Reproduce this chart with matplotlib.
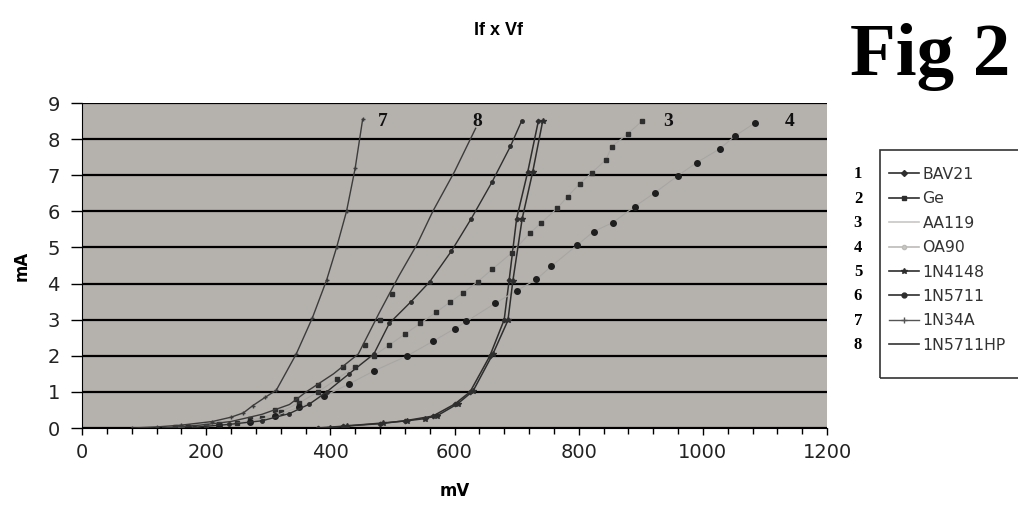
import matplotlib
matplotlib.use("Agg")
import matplotlib.pyplot as plt
from matplotlib.lines import Line2D
from matplotlib.patches import Rectangle

# forward voltage (mV) / forward current (mA)
v_bav21 = [380, 420, 480, 520, 565, 600, 625, 657, 680, 688, 700, 718, 735]
i_bav21 = [0.0, 0.05, 0.12, 0.2, 0.33, 0.66, 1.0, 2.0, 3.0, 4.1, 5.8, 7.1, 8.5]

v_ge = [150, 220, 270, 310, 345, 380, 420, 455, 480, 500]
i_ge = [0.0, 0.1, 0.25, 0.5, 0.8, 1.2, 1.7, 2.3, 3.0, 3.7]

v_aa119 = [150, 200, 250, 290, 320, 350, 380, 410, 440, 470, 495, 520, 545, 570,
           592, 613, 637, 661, 692, 721, 740, 765, 782, 802, 821, 844, 853, 879, 902]
i_aa119 = [0.02, 0.06, 0.14, 0.28, 0.45, 0.7, 1.0, 1.35, 1.7, 2.0, 2.3, 2.6, 2.9, 3.2,
           3.48, 3.73, 4.05, 4.4, 4.85, 5.39, 5.69, 6.08, 6.41, 6.77, 7.07, 7.43, 7.79, 8.15, 8.5]

v_oa90 = [170, 220, 270, 310, 350, 390, 430, 470, 524, 565, 600, 619, 665, 700,
          732, 756, 797, 824, 855, 890, 923, 960, 990, 1027, 1052, 1084]
i_oa90 = [0.02, 0.07, 0.17, 0.33, 0.58, 0.88, 1.22, 1.58, 2.0, 2.4, 2.75, 2.95, 3.45, 3.8,
          4.12, 4.48, 5.06, 5.44, 5.69, 6.13, 6.52, 6.99, 7.35, 7.73, 8.09, 8.45]

v_1n4148 = [400, 427, 485, 523, 552, 572, 605, 630, 662, 686, 694, 709, 726, 742]
i_1n4148 = [0.0, 0.06, 0.14, 0.2, 0.26, 0.34, 0.67, 1.03, 2.06, 2.98, 4.08, 5.8, 7.1, 8.5]

v_1n5711 = [180, 237, 290, 334, 366, 394, 430, 470, 495, 530, 560, 595, 627, 660, 690, 708]
i_1n5711 = [0.02, 0.1, 0.2, 0.4, 0.66, 1.0, 1.5, 2.05, 2.9, 3.5, 4.05, 4.9, 5.8, 6.8, 7.8, 8.5]

v_1n34a = [80, 120, 160, 210, 240, 260, 275, 295, 313, 345, 371, 394, 410, 426, 440, 452]
i_1n34a = [0.0, 0.03, 0.08, 0.18, 0.3, 0.42, 0.62, 0.85, 1.05, 2.05, 3.05, 4.1, 5.0, 6.0, 7.2, 8.55]

v_1n5711hp = [130, 190, 240, 290, 334, 361, 405, 445, 479, 510, 540, 565, 600, 634]
i_1n5711hp = [0.0, 0.08, 0.18, 0.38, 0.65, 1.0, 1.5, 2.05, 3.2, 4.2, 5.1, 6.0, 7.1, 8.3]

names = ["BAV21", "Ge", "AA119", "OA90", "1N4148", "1N5711", "1N34A", "1N5711HP"]

# hand written curve numbers placed at the top of the curves
tag_text = ["7", "8", "3", "4"]
tag_x = [485, 636, 944, 1140]
tag_y = [8.5, 8.5, 8.5, 8.5]

dark = "#2e2e2e"
bg = "#b5b2ae"

fig = plt.figure(figsize=(10.18, 5.2), dpi=100)
ax = fig.add_axes([0.0806, 0.1769, 0.7318, 0.625])
ax.set_facecolor(bg)

ax.plot(v_bav21, i_bav21, color=dark, lw=1.1, marker="D", ms=2.3)
ax.plot(v_ge, i_ge, color=dark, lw=1.0, marker="s", ms=3.3, ls="none")
ax.plot(v_aa119, i_aa119, color="#a8a6a3", lw=0.8, marker="s", ms=2.6,
        mfc=dark, mec=dark)
ax.plot(v_oa90, i_oa90, color="#a8a6a3", lw=0.8, marker="o", ms=4.0,
        mfc="#1e1e1e", mec="#1e1e1e")
ax.plot(v_1n4148, i_1n4148, color=dark, lw=1.1, marker="*", ms=4)
ax.plot(v_1n5711, i_1n5711, color=dark, lw=1.0, marker="o", ms=2.5)
ax.plot(v_1n34a, i_1n34a, color="#3c3c3c", lw=1.0, marker="+", ms=3)
ax.plot(v_1n5711hp, i_1n5711hp, color="#3c3c3c", lw=1.0)

for t, x, y in zip(tag_text, tag_x, tag_y):
    ax.text(x, y, t, fontsize=14, fontweight="bold", family="Liberation Serif",
            ha="center", va="center", color="#111111")

ax.set_xlim(0, 1200)
ax.set_ylim(0, 9)
ax.set_xticks(range(0, 1201, 200))
ax.set_xticks(range(0, 1201, 40), minor=True)
ax.set_yticks(range(0, 10))
ax.yaxis.grid(True, color="black", lw=1.6)
ax.set_axisbelow(True)
ax.tick_params(axis="x", direction="out", length=5, width=1, labelsize=14, pad=6)
ax.tick_params(axis="x", which="minor", direction="out", length=4, width=1)
ax.tick_params(axis="y", direction="out", length=8, width=1, labelsize=14, pad=8)
for lab in ax.get_xticklabels() + ax.get_yticklabels():
    lab.set_family("DejaVu Sans")
    lab.set_color("#222222")
ax.spines["top"].set_visible(False)
ax.spines["right"].set_visible(False)

ax.set_xlabel("mV", fontsize=12, fontweight="bold", labelpad=14)
ax.set_ylabel("mA", fontsize=12, fontweight="bold", labelpad=12)

fig.text(0.49, 0.942, "If x Vf", fontsize=13, fontweight="bold",
         family="Liberation Sans", ha="center", va="center")
fig.text(0.914, 0.856, "Fig 2", fontsize=54, fontweight="bold",
         family="Liberation Serif", ha="center", va="baseline")

# legend box runs off the right edge of the page in the scan
fig.patches.append(Rectangle((880 / 1018, 1 - 378 / 520), 0.2, 228 / 520,
                             transform=fig.transFigure, fill=False,
                             ec="#333333", lw=1.2))
handles = [
    Line2D([], [], color=dark, lw=1.2, marker="D", ms=3),
    Line2D([], [], color=dark, lw=1.2, marker="s", ms=3.5),
    Line2D([], [], color="#c9c7c4", lw=1.2),
    Line2D([], [], color="#bdbbb8", lw=1.2, marker="o", ms=3, mfc="#c9c7c4"),
    Line2D([], [], color=dark, lw=1.2, marker="*", ms=4),
    Line2D([], [], color=dark, lw=1.2, marker="o", ms=3.5),
    Line2D([], [], color="#555555", lw=1.0, marker="+", ms=4),
    Line2D([], [], color="#333333", lw=1.2),
]
leg = fig.legend(handles, names, loc="upper left",
                 bbox_to_anchor=(881 / 1018, 1 - 159 / 520),
                 frameon=False, handlelength=1.9,
                 handletextpad=0.25, labelspacing=0.6, borderpad=0,
                 prop={"family": "DejaVu Sans", "size": 11.3})
for t in leg.get_texts():
    t.set_color("#333333")

# numbers beside each legend entry
fig.canvas.draw()
inv = fig.transFigure.inverted()
for k, t in enumerate(leg.get_texts()):
    bb = t.get_window_extent()
    yc = inv.transform((0, (bb.y0 + bb.y1) / 2))[1]
    fig.text(858 / 1018, yc, str(k + 1), fontsize=12, fontweight="bold",
             family="Liberation Serif", ha="center", va="center")

fig.savefig("out.png", dpi=100, facecolor="white")
